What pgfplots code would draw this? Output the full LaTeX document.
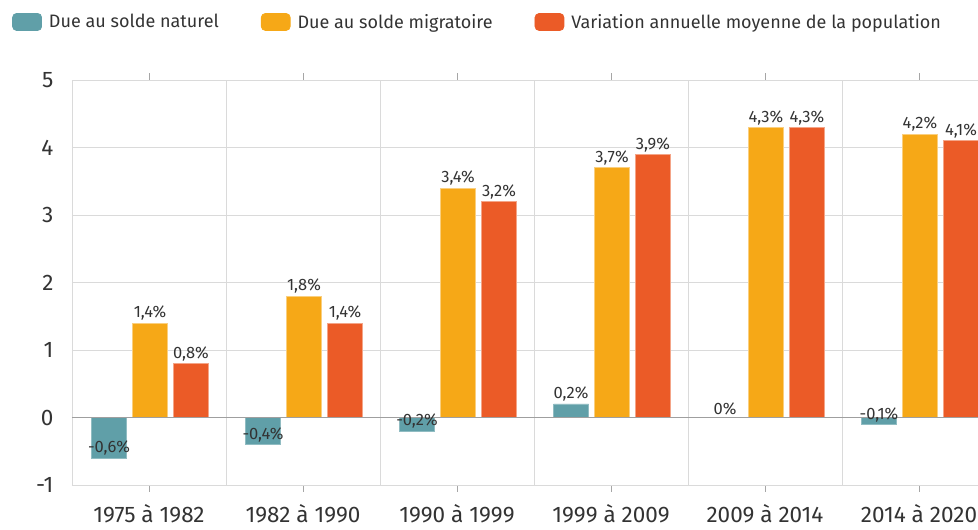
\documentclass[border=0pt]{standalone}
\usepackage{pgfplots}
\pgfplotsset{compat=1.18}
\usepackage{fontspec}
\setmainfont{Fira Sans}
\definecolor{cteal}{HTML}{609FA8}
\definecolor{corange}{HTML}{F6A817}
\definecolor{cred}{HTML}{EB5B27}
\definecolor{ctext}{HTML}{333333}
\definecolor{cgrid}{HTML}{DADADA}
\begin{document}
\begin{tikzpicture}
\begin{axis}[
  at={(0pt,0pt)}, anchor=south west,
  scale only axis, width=924pt, height=405pt,
  xmin=-0.5, xmax=5.5, ymin=-1, ymax=5,
  xtick={0,1,2,3,4,5},
  xticklabels={1975 à 1982,1982 à 1990,1990 à 1999,1999 à 2009,2009 à 2014,2014 à 2020},
  minor xtick={0.5,1.5,2.5,3.5,4.5},
  ytick={-1,0,1,2,3,4,5},
  ymajorgrids, xminorgrids,
  grid style={cgrid, line width=0.9pt},
  minor grid style={cgrid, line width=0.9pt},
  axis line style={cgrid, line width=0.9pt},
  tick align=outside,
  major tick length=7pt, minor tick length=0pt,
  xtick style={draw=gray!70, line width=0.9pt},
  ytick style={draw=none},
  /pgf/number format/assume math mode=true,
  ticklabel style={font=\fontsize{22.5}{26}\selectfont, text=ctext},
  xticklabel style={yshift=-9pt},
  yticklabel style={xshift=-8pt},
  bar width=35pt,
  legend columns=3,
  legend cell align=left,
  legend style={draw=none, fill=none, inner sep=0pt,
    at={(axis description cs:0,1)}, anchor=north west, xshift=-60pt, yshift=68pt,
    font=\fontsize{18}{22}\selectfont, text=ctext,
    /tikz/every odd column/.append style={column sep=5pt},
    /tikz/every even column/.append style={column sep=40pt}},
  clip=false,
]
\addplot[ybar, bar shift=-40pt, fill=cteal, draw=cteal!70!white, line width=0.8pt,
  nodes near coords={\pgfmathprintnumber[use comma,fixed,precision=1]{\pgfplotspointmeta}\%},
  every node near coord/.append style={anchor=south, xshift=-40pt, font=\fontsize{16.5}{18}\selectfont, text=ctext, inner sep=2pt},
  legend image code/.code={\fill[cteal, rounded corners=4pt] (0pt,-8.5pt) rectangle (29pt,8.5pt);}]
  coordinates {(0,-0.6) (1,-0.4) (2,-0.2) (3,0.2) (4,0) (5,-0.1)};
\addlegendentry{Due au solde naturel}
\addplot[ybar, bar shift=1pt, fill=corange, draw=corange!55!white, line width=0.6pt,
  nodes near coords={\pgfmathprintnumber[use comma,fixed,precision=1]{\pgfplotspointmeta}\%},
  every node near coord/.append style={anchor=south, xshift=1pt, font=\fontsize{16.5}{18}\selectfont, text=ctext, inner sep=2pt},
  legend image code/.code={\fill[corange, rounded corners=4pt] (0pt,-8.5pt) rectangle (29pt,8.5pt);}]
  coordinates {(0,1.4) (1,1.8) (2,3.4) (3,3.7) (4,4.3) (5,4.2)};
\addlegendentry{Due au solde migratoire}
\addplot[ybar, bar shift=42pt, fill=cred, draw=cred!55!white, line width=0.6pt,
  nodes near coords={\pgfmathprintnumber[use comma,fixed,precision=1]{\pgfplotspointmeta}\%},
  every node near coord/.append style={anchor=south, xshift=42pt, font=\fontsize{16.5}{18}\selectfont, text=ctext, inner sep=2pt},
  legend image code/.code={\fill[cred, rounded corners=4pt] (0pt,-8.5pt) rectangle (29pt,8.5pt);}]
  coordinates {(0,0.8) (1,1.4) (2,3.2) (3,3.9) (4,4.3) (5,4.1)};
\addlegendentry{Variation annuelle moyenne de la population}
\addplot[forget plot, sharp plot, no markers, color=gray!75, line width=0.9pt]
  coordinates {(-0.5,0) (5.5,0)};
\end{axis}
\pgfresetboundingbox
\path[use as bounding box] (-72pt,-45pt) rectangle (906pt,485pt);
\end{tikzpicture}
\end{document}
